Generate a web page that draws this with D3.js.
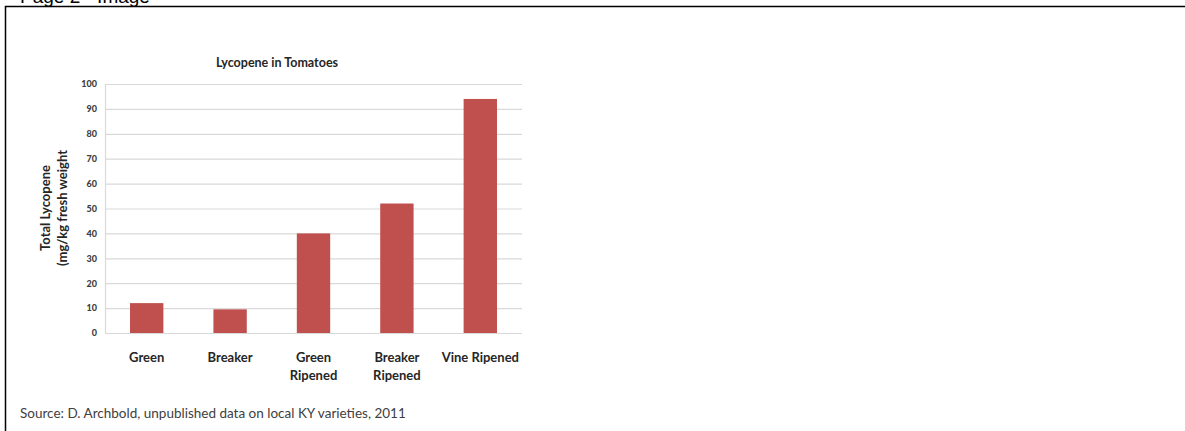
<!DOCTYPE html>
<html>
<head>
<meta charset="utf-8">
<script src="https://cdn.jsdelivr.net/npm/d3@7"></script>
<style>
  body { margin: 0; background: #fff; }
  svg { display: block; }
</style>
</head>
<body>
<svg width="1185" height="431"></svg>
<script>
// data
const categories = [['Green'], ['Breaker'], ['Green', 'Ripened'], ['Breaker', 'Ripened'], ['Vine Ripened']];
const values = [12, 9.5, 40, 52, 94];
const yTicks = [0, 10, 20, 30, 40, 50, 60, 70, 80, 90, 100];

const svg = d3.select('svg');
const font = 'Lato, "Open Sans", sans-serif';

// page frame
svg.append('path')
    .attr('d', 'M5.5,431 V6.5 H1185')
    .attr('fill', 'none')
    .attr('stroke', '#000')
    .attr('stroke-width', 1.5);

svg.append('text')
    .attr('x', 20)
    .attr('y', 3)
    .attr('font-family', '"Liberation Sans", Arial, sans-serif')
    .attr('font-size', 19)
    .attr('fill', '#000')
    .text('Page 2 - Image');

// plot area
const plot = { left: 105, right: 522, top: 84, bottom: 333 };
const keys = categories.map((c) => c.join(' '));

const x = d3.scaleBand().domain(keys).range([plot.left, plot.right]).paddingInner(0.6).paddingOuter(0.3);
const y = d3.scaleLinear().domain([0, 100]).range([plot.bottom, plot.top]);

const g = svg.append('g');

// 网格线
g.selectAll('.grid')
    .data(yTicks)
    .enter()
    .append('line')
    .attr('x1', plot.left)
    .attr('x2', plot.right)
    .attr('y1', (d) => y(d) + 0.5)
    .attr('y2', (d) => y(d) + 0.5)
    .attr('stroke', '#d9d9d9')
    .attr('stroke-width', 1.2);

g.append('line')
    .attr('x1', plot.left + 0.5)
    .attr('x2', plot.left + 0.5)
    .attr('y1', plot.top)
    .attr('y2', plot.bottom)
    .attr('stroke', '#d9d9d9')
    .attr('stroke-width', 1.2);

// y轴
const yAxis = g.append('g')
    .attr('transform', `translate(${plot.left - 8},0)`)
    .call(d3.axisLeft(y).tickValues(yTicks).tickSize(0).tickPadding(0));
yAxis.select('.domain').remove();
yAxis.selectAll('text')
    .attr('font-family', font)
    .attr('font-weight', 900)
    .attr('font-size', 9)
    .attr('fill', '#404040');

// bars
g.selectAll('.bar')
    .data(values)
    .enter()
    .append('rect')
    .attr('class', 'bar')
    .attr('x', (d, i) => x(keys[i]))
    .attr('y', (d) => y(d))
    .attr('width', x.bandwidth())
    .attr('height', (d) => y(0) - y(d))
    .attr('fill', '#c0504d');

// category labels
const xl = g.selectAll('.xlabel')
    .data(categories)
    .enter()
    .append('text')
    .attr('class', 'xlabel')
    .attr('text-anchor', 'middle')
    .attr('font-family', font)
    .attr('font-weight', 'bold')
    .attr('font-size', 13)
    .attr('fill', '#262626')
    .attr('transform', (d, i) => `translate(${x(keys[i]) + x.bandwidth() / 2},${plot.bottom + 29})`);
xl.selectAll('tspan')
    .data((d) => d)
    .enter()
    .append('tspan')
    .attr('x', 0)
    .attr('dy', (d, i) => (i === 0 ? 0 : 18))
    .text((d) => d);

// title
svg.append('text')
    .attr('x', 277)
    .attr('y', 67)
    .attr('text-anchor', 'middle')
    .attr('font-family', font)
    .attr('font-weight', 'bold')
    .attr('font-size', 12.5)
    .attr('fill', '#262626')
    .text('Lycopene in Tomatoes');

// y axis title
const yt = svg.append('text')
    .attr('transform', 'translate(50,208) rotate(-90)')
    .attr('text-anchor', 'middle')
    .attr('font-family', font)
    .attr('font-weight', 'bold')
    .attr('font-size', 13)
    .attr('fill', '#262626');
yt.append('tspan').attr('x', 0).attr('dy', 0).text('Total Lycopene');
yt.append('tspan').attr('x', 0).attr('dy', 17).text('(mg/kg fresh weight');

// source
svg.append('text')
    .attr('x', 20)
    .attr('y', 418)
    .attr('font-family', font)
    .attr('font-size', 13.5)
    .attr('fill', '#404040')
    .text('Source: D. Archbold, unpublished data on local KY varieties, 2011');
</script>
</body>
</html>
